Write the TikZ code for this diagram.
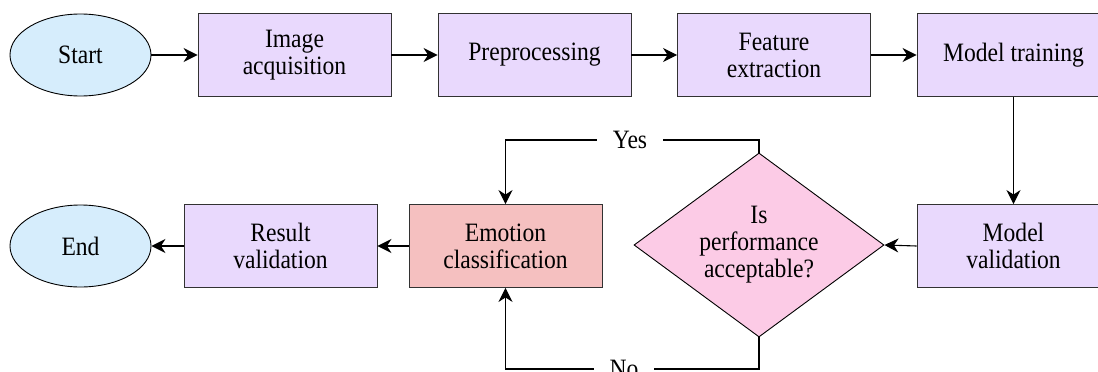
\documentclass[tikz,border=0pt]{standalone}
\usepackage{fontspec}
\setmainfont{Liberation Serif}[FakeStretch=0.89]
\usetikzlibrary{arrows.meta,shapes.geometric}
\definecolor{ellfill}{RGB}{214,237,252}
\definecolor{boxfill}{RGB}{233,217,253}
\definecolor{emofill}{RGB}{245,192,192}
\definecolor{decfill}{RGB}{252,203,230}
\definecolor{edge}{RGB}{50,50,50}
\begin{document}
\begin{tikzpicture}[x=1pt,y=-1pt,
  every node/.style={font=\fontsize{26.5}{27}\selectfont, align=center, inner sep=0pt},
  term/.style={ellipse, draw=black, line width=0.9pt, fill=ellfill, minimum width=141pt, minimum height=82pt},
  proc/.style={rectangle, draw=edge, line width=0.9pt, fill=boxfill, minimum width=193pt, minimum height=83pt},
  emo/.style={proc, fill=emofill},
  dec/.style={diamond, aspect=1.36, draw=black, line width=0.9pt, fill=decfill, minimum width=250pt, minimum height=184pt},
  arr/.style={line width=1.1pt, -{Stealth[length=14pt,width=14pt,inset=4.5pt]}},
  lab/.style={fill=white, inner xsep=16pt, inner ysep=2pt}]
\clip (0,0) rectangle (1098,372);
\fill[white] (0,0) rectangle (1098,372);
% top row
\node[term] (start) at (80.5,55) {Start};
\node[proc] (img) at (294.5,55) {Image\\acquisition};
\node[proc] (pre) at (534.5,55) {Preprocessing};
\node[proc] (feat) at (774,55) {Feature\\extraction};
\node[proc] (mtr) at (1013.5,55) {Model training};
% bottom row
\node[term] (end) at (80.5,246) {End};
\node[proc] (res) at (280.5,246) {Result\\validation};
\node[emo] (emo) at (505.5,246) {Emotion\\classification};
\node[dec] (dec) at (759,245) {Is\\performance\\acceptable?};
\node[proc] (mval) at (1013.5,246) {Model\\validation};
% connectors
\draw[arr] (start.east) -- (img.west);
\draw[arr] (img.east) -- (pre.west);
\draw[arr] (pre.east) -- (feat.west);
\draw[arr] (feat.east) -- (mtr.west);
\draw[arr] (mtr.south) -- (mval.north);
\draw[arr] (mval.west) -- (dec.east);
\draw[arr] (emo.west) -- (res.east);
\draw[arr] (res.west) -- (end.east);
\coordinate (ytop) at (630,140);
\coordinate (nbot) at (624,369);
\draw[arr] (dec.north) |- (ytop) -| (emo.north);
\draw[arr] (dec.south) |- (nbot) -| (emo.south);
\node[lab] (yes) at (ytop) {Yes};
\node[lab] (no) at (nbot) {No};
\end{tikzpicture}
\end{document}
